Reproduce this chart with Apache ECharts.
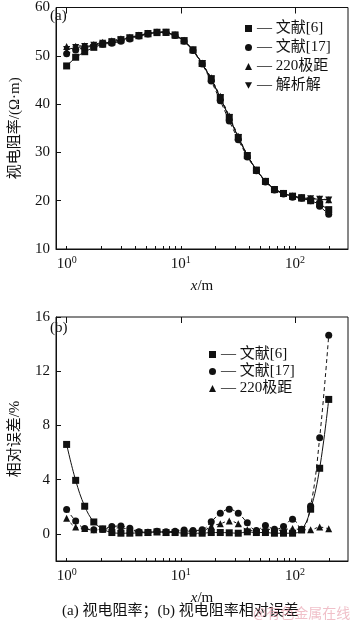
<!DOCTYPE html>
<html>
<head>
<meta charset="utf-8">
<script src="https://cdn.jsdelivr.net/npm/echarts@6/dist/echarts.min.js"></script>
<style>
  html, body { margin: 0; padding: 0; background: #fff; }
  #chart { width: 350px; height: 624px; }
</style>
</head>
<body>
<div id="chart"></div>
<script>
// Electrode spacing x (m)
const spacing = [1.0, 1.2, 1.44, 1.73, 2.07, 2.49, 2.99, 3.58, 4.3, 5.16, 6.19, 7.43, 8.92, 10.7, 12.8,
  15.4, 18.5, 22.2, 26.6, 31.9, 38.3, 46.0, 55.2, 66.2, 79.5, 95.4, 114.5, 137.4, 164.9, 197.9];

// (a) apparent resistivity, Ω·m
const rhoRef6 = [47.9, 49.7, 50.85, 51.75, 52.4, 52.85, 53.3, 53.7, 54.15, 54.55, 54.8, 54.85, 54.25, 53.1, 51.2,
  48.4, 45.25, 41.35, 37.25, 33.1, 29.35, 26.3, 24.0, 22.3, 21.5, 20.9, 20.55, 20.0, 19.3, 18.15];
const rhoRef17 = [50.4, 51.2, 51.7, 52.05, 52.4, 52.6, 53.0, 53.5, 54.1, 54.5, 54.8, 54.8, 54.2, 53.0, 51.1,
  48.3, 44.8, 40.7, 36.5, 32.6, 29.05, 26.2, 23.85, 22.2, 21.4, 20.7, 20.5, 20.0, 18.85, 17.2];
const rho220 = [51.9, 52.0, 52.1, 52.35, 52.8, 53.1, 53.55, 53.85, 54.3, 54.65, 55.0, 54.95, 54.4, 53.2, 51.3,
  48.5, 45.45, 41.6, 37.55, 33.35, 29.4, 26.35, 24.1, 22.35, 21.55, 21.0, 20.65, 20.45, 20.4, 20.2];
const rhoAnalytic = [51.3, 51.7, 51.9, 52.2, 52.6, 52.9, 53.3, 53.7, 54.2, 54.6, 54.9, 54.9, 54.3, 53.1, 51.2,
  48.4, 45.2, 41.3, 37.2, 33.1, 29.3, 26.3, 24.0, 22.3, 21.5, 20.9, 20.6, 20.4, 20.3, 20.15];

// (b) relative error, %
const errRef6 = [6.6, 3.95, 2.04, 0.88, 0.37, 0.1, 0.05, 0.05, 0.08, 0.1, 0.15, 0.1, 0.1, 0.05, 0.05,
  0.05, 0.1, 0.1, 0.08, 0.05, 0.15, 0.1, 0.1, 0.05, 0.05, 0.05, 0.3, 1.82, 4.84, 9.92];
const errRef17 = [1.8, 0.96, 0.39, 0.3, 0.35, 0.54, 0.58, 0.42, 0.15, 0.12, 0.2, 0.15, 0.2, 0.29, 0.25,
  0.3, 0.9, 1.52, 1.81, 1.52, 0.83, 0.25, 0.61, 0.34, 0.54, 1.08, 0.34, 2.06, 7.1, 14.65];
const err220 = [1.15, 0.5, 0.4, 0.3, 0.35, 0.4, 0.45, 0.3, 0.15, 0.12, 0.15, 0.12, 0.15, 0.2, 0.2,
  0.2, 0.59, 0.74, 0.96, 0.74, 0.3, 0.25, 0.4, 0.25, 0.3, 0.4, 0.3, 0.3, 0.5, 0.37];

// Axis ticks
const xMajorTicks = [1, 10, 100];
const xMinorTicks = [1, 2, 3, 4, 5, 6, 7, 8, 9, 10, 20, 30, 40, 50, 60, 70, 80, 90, 100, 200];
const rhoTicks = [10, 20, 30, 40, 50, 60];
const errTicks = [0, 4, 8, 12, 16];

const names = ['文献[6]', '文献[17]', '220极距', '解析解'];

const SERIF = "'Liberation Serif', 'Noto Sans CJK SC', serif";
const INK = '#111';
const X_MIN = 0.807, X_MAX = 292;

const pairs = arr => spacing.map((x, i) => [x, arr[i]]);

const symbols = ['rect', 'circle', 'triangle', 'triangle'];
const symbolSizes = [7, 7, 7, 7];
const symbolRot = [0, 0, 0, 180];
const dashes = ['solid', [4, 3], [3, 3], 'solid'];
const invTri = 'path://M0,0 L10,0 L5,9 Z';

function logLabel(v) {
  const e = Math.round(Math.log10(v));
  return '10{sup|' + e + '}';
}

function xAxesFor(gridIndex) {
  return [
    {
      type: 'log', gridIndex, min: X_MIN, max: X_MAX,
      axisLine: { onZero: false, lineStyle: { color: INK, width: 1 } },
      axisTick: { inside: true, length: 3, customValues: xMinorTicks, lineStyle: { color: INK } },
      axisLabel: {
        customValues: xMajorTicks, margin: 6, color: INK, fontFamily: SERIF, fontSize: 15,
        formatter: logLabel,
        rich: { sup: { fontSize: 10, verticalAlign: 'top', padding: [0, 0, 8, 0], fontFamily: SERIF, color: INK } }
      },
      splitLine: { show: false },
      name: '{i|x}/m', nameLocation: 'middle', nameGap: 30,
      nameTextStyle: { color: INK, fontFamily: SERIF, fontSize: 15, rich: { i: { fontStyle: 'italic', fontFamily: SERIF, fontSize: 15, color: INK } } }
    },
    {
      type: 'log', gridIndex, min: X_MIN, max: X_MAX,
      axisLine: { show: false, onZero: false },
      axisTick: { inside: true, length: 6, customValues: xMajorTicks, lineStyle: { color: INK } },
      axisLabel: { show: false },
      splitLine: { show: false }
    }
  ];
}

function yAxisFor(gridIndex, min, max, ticks, title) {
  return {
    type: 'value', gridIndex, min, max,
    axisLine: { show: true, onZero: false, lineStyle: { color: INK, width: 1 } },
    axisTick: { show: true, inside: true, length: 5, customValues: ticks, lineStyle: { color: INK } },
    axisLabel: { customValues: ticks, margin: 6, color: INK, fontFamily: SERIF, fontSize: 15 },
    splitLine: { show: false },
    name: title, nameLocation: 'middle', nameGap: 33,
    nameTextStyle: { color: INK, fontFamily: SERIF, fontSize: 15 }
  };
}

function lineSeries(idx, data, xAxisIndex, yAxisIndex, smooth) {
  return {
    name: names[idx], type: 'line', data,
    xAxisIndex, yAxisIndex, smooth,
    symbol: symbols[idx], symbolSize: symbolSizes[idx], symbolRotate: symbolRot[idx],
    showAllSymbol: true,
    itemStyle: { color: INK },
    lineStyle: { color: INK, width: 1, type: dashes[idx] },
    emphasis: { disabled: true },
    animation: false
  };
}

const legendText = { color: INK, fontFamily: SERIF, fontSize: 15 };

const option = {
  backgroundColor: '#fff',
  animation: false,
  grid: [
    { left: 46, top: 6, width: 302, height: 243, show: true, borderColor: INK, borderWidth: 1 },
    { left: 46, top: 317, width: 302, height: 244, show: true, borderColor: INK, borderWidth: 1 }
  ],
  xAxis: [...xAxesFor(0), ...xAxesFor(1)],
  yAxis: [
    yAxisFor(0, 10, 60, rhoTicks, '视电阻率/(Ω·m)'),
    yAxisFor(1, -2, 16, errTicks, '相对误差/%')
  ],
  legend: [
    {
      left: 240, top: 16, orient: 'vertical', itemGap: 4, itemWidth: 7, itemHeight: 7,
      textStyle: legendText,
      formatter: n => '— ' + n,
      data: [
        { name: '文献[6]', icon: 'rect' },
        { name: '文献[17]', icon: 'circle' },
        { name: '220极距', icon: 'triangle' },
        { name: '解析解', icon: invTri }
      ]
    },
    {
      left: 204, top: 342, orient: 'vertical', itemGap: 2, itemWidth: 7, itemHeight: 7,
      textStyle: legendText,
      formatter: n => '— ' + n,
      selectedMode: false,
      data: [
        { name: '文献[6]', icon: 'rect' },
        { name: '文献[17]', icon: 'circle' },
        { name: '220极距', icon: 'triangle' }
      ]
    }
  ],
  series: [
    lineSeries(0, pairs(rhoRef6), 0, 0, false),
    lineSeries(1, pairs(rhoRef17), 0, 0, false),
    lineSeries(2, pairs(rho220), 0, 0, false),
    lineSeries(3, pairs(rhoAnalytic), 0, 0, false),
    lineSeries(0, pairs(errRef6), 2, 1, 0.4),
    lineSeries(1, pairs(errRef17), 2, 1, 0.4),
    lineSeries(2, pairs(err220), 2, 1, 0.4)
  ],
  graphic: [
    { type: 'text', left: 50, top: 9, style: { text: '(a)', fill: INK, font: "15px 'Liberation Serif'" } },
    { type: 'text', left: 50, top: 321, style: { text: '(b)', fill: INK, font: "15px 'Liberation Serif'" } },
    { type: 'text', left: 62, top: 604, style: { text: '(a) 视电阻率；(b) 视电阻率相对误差', fill: INK, font: "15px 'Liberation Serif', 'Noto Sans CJK SC'" } },
    { type: 'text', left: 253, top: 606, style: { text: '@有色金属在线', fill: 'rgba(230,150,165,0.6)', font: "14px 'Noto Sans CJK SC'" } }
  ]
};

const chart = echarts.init(document.getElementById('chart'), null, { renderer: 'canvas' });
chart.setOption(option);
</script>
</body>
</html>
